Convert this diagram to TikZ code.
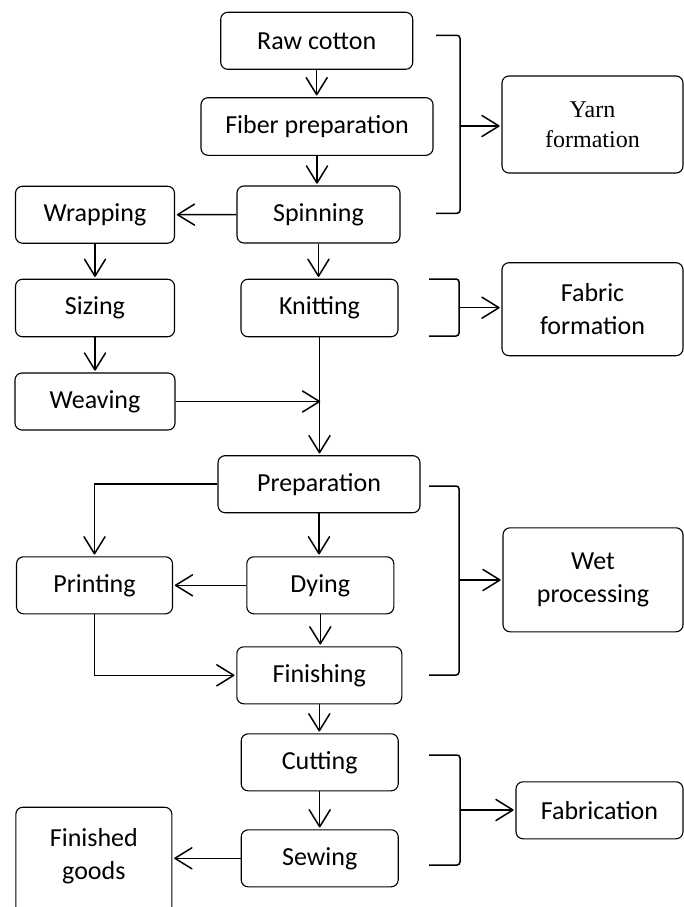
\documentclass[tikz,border=0pt]{standalone}
\usepackage{fontspec}
\setmainfont{Carlito}
\newfontfamily\serifbox{Liberation Serif}
\usetikzlibrary{arrows.meta}
\pgfdeclarearrow{
  name = PlainV,
  parameters = {\the\pgfarrowlength,\the\pgfarrowwidth},
  setup code = {
    \pgfarrowssettipend{0pt}
    \pgfarrowssetlineend{-0.8pt}
    \pgfarrowsupperhullpoint{-\pgfarrowlength}{.5\pgfarrowwidth}
    \pgfarrowshullpoint{0pt}{0pt}
    \pgfarrowssavethe\pgfarrowlength
    \pgfarrowssavethe\pgfarrowwidth
  },
  drawing code = {
    \pgfsetdash{}{0pt}
    \pgfsetroundjoin
    \pgfsetroundcap
    \pgfpathmoveto{\pgfqpoint{-\pgfarrowlength}{.5\pgfarrowwidth}}
    \pgfpathlineto{\pgfqpoint{0pt}{0pt}}
    \pgfpathlineto{\pgfqpoint{-\pgfarrowlength}{-.5\pgfarrowwidth}}
    \pgfusepathqstroke
  },
  defaults = {length=10pt, width=14pt}
}
\begin{document}
\begin{tikzpicture}[x=1pt,y=-1pt,
  box/.style={draw, rounded corners=7pt, line width=1.1pt, inner sep=0pt, align=center, font=\fontsize{26}{33}\selectfont},
  arr/.style={line width=1.5pt, shorten >=2.5pt, -{PlainV[length=17pt,width=21pt]}},
  brk/.style={line width=1.5pt, rounded corners=3pt}]
\useasboundingbox (0,0) rectangle (684,907);
% main column
\node[box, minimum width=192pt, minimum height=57pt] (raw) at (316.7,40.8) {Raw cotton};
\node[box, minimum width=232pt, minimum height=57.6pt] (fiber) at (317,126.5) {Fiber preparation};
\node[box, minimum width=163pt, minimum height=57pt] (spin) at (318.5,214.5) {Spinning};
\node[box, minimum width=157pt, minimum height=57.5pt] (knit) at (319.5,308) {Knitting};
\node[box, minimum width=202pt, minimum height=57pt] (prep) at (319,484.2) {Preparation};
\node[box, minimum width=147pt, minimum height=57pt] (dying) at (320.3,585.3) {Dying};
\node[box, minimum width=165pt, minimum height=57pt] (finish) at (319.3,675.3) {Finishing};
\node[box, minimum width=157pt, minimum height=57pt] (cut) at (319.7,762.3) {Cutting};
\node[box, minimum width=157pt, minimum height=57pt] (sew) at (319.7,858.3) {Sewing};
% left column
\node[box, minimum width=159pt, minimum height=57pt] (wrap) at (95,214.7) {Wrapping};
\node[box, minimum width=159pt, minimum height=57.5pt] (sizing) at (95,308) {Sizing};
\node[box, minimum width=160pt, minimum height=57pt] (weav) at (95,401.5) {Weaving};
\node[box, minimum width=156pt, minimum height=57pt] (print) at (94.5,585.3) {Printing};
\node[box, minimum width=156pt, minimum height=115pt, anchor=north west] (goods) at (15.3,806.7) {\raisebox{0pt}{}\\[-68pt]Finished\\goods};
% right column
\node[box, minimum width=181pt, minimum height=97pt, font=\serifbox\fontsize{24}{30}\selectfont] (yarn) at (592.5,124.5) {Yarn\\formation};
\node[box, minimum width=181pt, minimum height=93pt] (fabric) at (592.5,309.2) {Fabric\\formation};
\node[box, minimum width=180pt, minimum height=104pt] (wet) at (593,579.8) {Wet\\processing};
\node[box, minimum width=167pt, minimum height=57pt] (fabr) at (599.5,810.3) {Fabrication};
% brackets
\coordinate (y1) at (436,35.3); \coordinate (y2) at (460,35.3); \coordinate (y3) at (460,213.3); \coordinate (y4) at (436,213.3); \coordinate (ym) at (460,126);
\coordinate (f1) at (429,279); \coordinate (f2) at (459,279); \coordinate (f3) at (459,336); \coordinate (f4) at (429,336); \coordinate (fm) at (459,307.7);
\coordinate (w1) at (429,486); \coordinate (w2) at (459,486); \coordinate (w3) at (459,675); \coordinate (w4) at (429,675); \coordinate (wm) at (459,580);
\coordinate (c1) at (429,755); \coordinate (c2) at (460,755); \coordinate (c3) at (460,865); \coordinate (c4) at (429,865); \coordinate (cm) at (460,810);
\draw[brk] (y1) -- (y2) -- (y3) -- (y4);
\draw[brk] (f1) -- (f2) -- (f3) -- (f4);
\draw[brk] (w1) -- (w2) -- (w3) -- (w4);
\draw[brk] (c1) -- (c2) -- (c3) -- (c4);
\draw[arr] (ym) -- (ym -| yarn.west);
\draw[arr] (fm) -- (fm -| fabric.west);
\draw[arr] (wm) -- (wm -| wet.west);
\draw[arr] (cm) -- (cm -| fabr.west);
% vertical flow
\draw[arr] (raw.south) -- (raw.south |- fiber.north);
\draw[arr] (fiber.south) -- (fiber.south |- spin.north);
\draw[arr] (spin.south) -- (spin.south |- knit.north);
\draw[arr] (wrap.south) -- (sizing.north);
\draw[arr] (sizing.south) -- (weav.north);
\draw[arr] (knit.south) -- (knit.south |- prep.north);
\coordinate (wj) at (knit.south |- weav.east);
\draw[arr, shorten >=0pt] (weav.east) -- (wj);
\draw[arr] (spin.west) -- (wrap.east);
\draw[arr] (prep.south) -- (prep.south |- dying.north);
\draw[arr] (prep.west) -| (print.north);
\draw[arr] (dying.west) -- (dying.west -| print.east);
\draw[arr] (dying.south) -- (dying.south |- finish.north);
\draw[arr] (print.south) |- (finish.west);
\draw[arr] (finish.south) -- (finish.south |- cut.north);
\draw[arr] (cut.south) -- (sew.north);
\draw[arr] (sew.west) -- (sew.west -| goods.east);
\end{tikzpicture}
\end{document}
